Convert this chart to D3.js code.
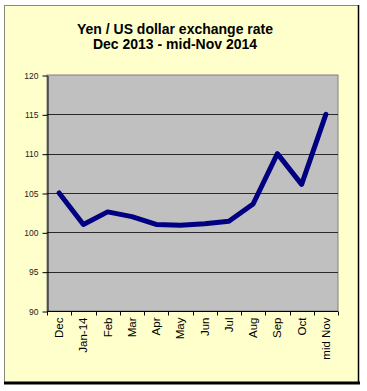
<!DOCTYPE html>
<html><head><meta charset="utf-8">
<script src="https://cdn.jsdelivr.net/npm/d3@7"></script>
<style>body{margin:0;background:#fff;}svg{display:block;}</style>
</head><body>
<svg id="c" width="367" height="391"></svg>
<script>
const categories = ["Dec","Jan-14","Feb","Mar","Apr","May","Jun","Jul","Aug","Sep","Oct","mid Nov"];
const rates = [105, 101, 102.6, 102, 101, 100.9, 101.1, 101.4, 103.6, 110, 106.1, 115];
const yTicks = [90, 95, 100, 105, 110, 115, 120];
const titleLines = ["Yen / US dollar exchange rate", "Dec 2013 - mid-Nov 2014"];

const svg = d3.select("#c");
const font = "'Liberation Sans', Arial, sans-serif";

// outer frame
svg.append("rect").attr("x",4.5).attr("y",5.5).attr("width",354).attr("height",377)
  .attr("fill","#ffffcc").attr("stroke","#8a8a7a").attr("stroke-width",1);
svg.append("line").attr("x1",358.5).attr("x2",358.5).attr("y1",5).attr("y2",384)
  .attr("stroke","#000").attr("stroke-width",1.5);
svg.append("line").attr("x1",4).attr("x2",360).attr("y1",383).attr("y2",383)
  .attr("stroke","#000").attr("stroke-width",3);

// title
svg.append("g").selectAll("text").data(titleLines).join("text")
  .attr("x",175).attr("y",(d,i)=>34+i*15)
  .attr("text-anchor","middle").attr("font-family",font).attr("font-weight","bold")
  .attr("font-size",14).attr("fill","#000").text(d=>d);

const L=47, T=75, R=338, B=311;
const x = d3.scaleBand().domain(categories).range([L,R]);
const y = d3.scaleLinear().domain([90,120]).range([B,T]);

svg.append("rect").attr("x",L).attr("y",T).attr("width",R-L).attr("height",B-T)
  .attr("fill","#c0c0c0").attr("stroke","#808080").attr("stroke-width",1);

// gridlines
svg.append("g").selectAll("line").data(yTicks.filter(v=>v>90&&v<120)).join("line")
  .attr("x1",L).attr("x2",R).attr("y1",d=>Math.round(y(d))+0.5).attr("y2",d=>Math.round(y(d))+0.5)
  .attr("stroke","#2a2a2a").attr("stroke-width",1);

// y axis
const yAxis = svg.append("g").attr("transform",`translate(${L+0.5},0.5)`)
  .call(d3.axisLeft(y).tickValues(yTicks).tickSize(5).tickSizeOuter(0).tickPadding(4));
yAxis.select(".domain").attr("stroke","#000");
yAxis.selectAll(".tick line").attr("stroke","#000");
yAxis.selectAll("text").attr("font-family",font).attr("font-size",8.5).attr("fill","#222");

// x axis with ticks at band boundaries
const xg = svg.append("g").attr("transform",`translate(0,${B+0.5})`);
xg.append("line").attr("x1",L).attr("x2",R).attr("y1",0).attr("y2",0).attr("stroke","#000");
const bounds = categories.map(c=>x(c)).concat([R]);
xg.selectAll("line.tk").data(bounds).join("line").attr("class","tk")
  .attr("x1",d=>Math.round(d)+0.5).attr("x2",d=>Math.round(d)+0.5).attr("y1",0).attr("y2",4)
  .attr("stroke","#000");
xg.selectAll("text").data(categories).join("text")
  .attr("transform",d=>`translate(${x(d)+x.bandwidth()/2+4},6) rotate(-90)`)
  .attr("text-anchor","end").attr("font-family",font).attr("font-size",11.5).attr("fill","#000")
  .text(d=>d);

// line
const line = d3.line().x((d,i)=>x(categories[i])+x.bandwidth()/2).y(d=>y(d));
svg.append("path").datum(rates).attr("d",line).attr("fill","none")
  .attr("stroke","#000080").attr("stroke-width",5).attr("stroke-linejoin","round").attr("stroke-linecap","round");
</script>
</body></html>
